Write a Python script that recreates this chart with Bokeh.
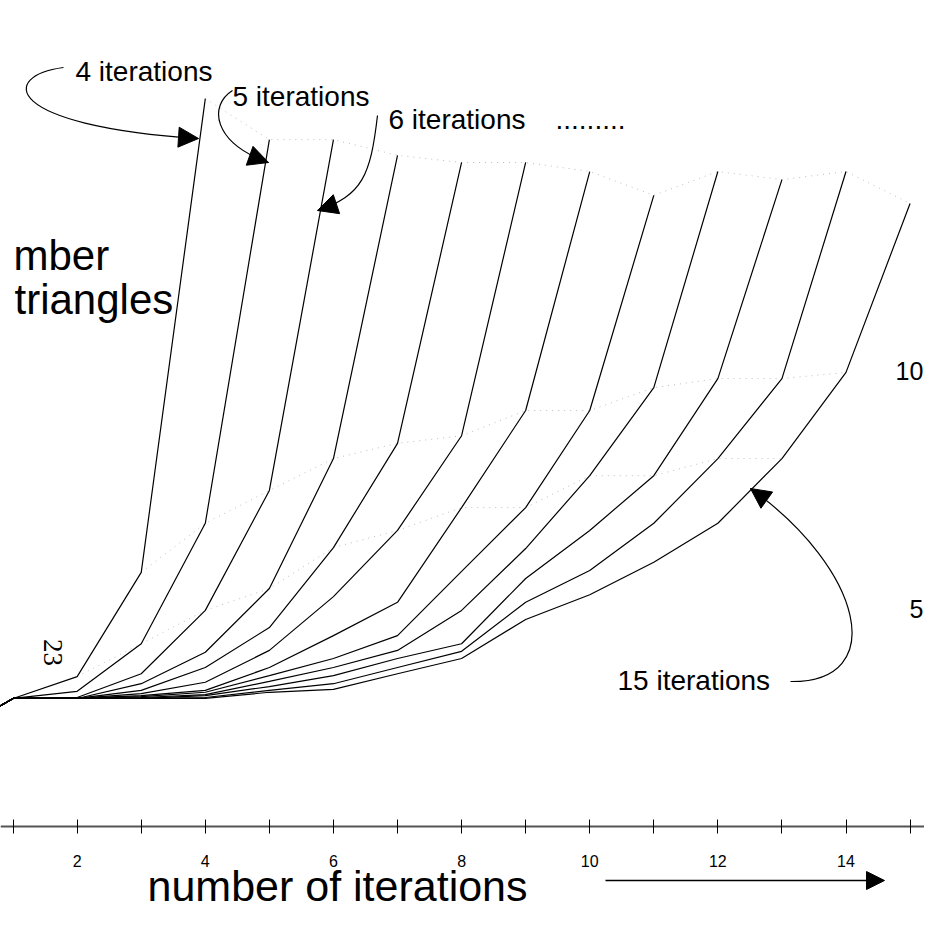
import math
from bokeh.plotting import figure
from bokeh.models import Range1d, FixedTicker, Arrow, NormalHead
from bokeh.core.properties import value
from bokeh.embed import file_html
from bokeh.resources import INLINE

# ---------------- data ----------------
# number of triangles (in thousands) after each iteration, one series per run length
curve_4 = [3.11, 3.57, 5.76, 15.71]
curve_5 = [3.11, 3.26, 4.26, 6.79, 14.85]
curve_6 = [3.11, 3.13, 3.63, 4.96, 7.48, 14.85]
curve_7 = [3.11, 3.11, 3.42, 4.08, 5.42, 8.15, 14.52]
curve_8 = [3.11, 3.11, 3.28, 3.76, 4.60, 6.28, 8.47, 14.37]
curve_9 = [3.11, 3.11, 3.21, 3.45, 4.12, 5.25, 6.64, 8.63, 14.37]
curve_10 = [3.11, 3.11, 3.17, 3.28, 3.76, 4.43, 5.13, 7.12, 9.16, 14.18]
curve_11 = [3.11, 3.11, 3.15, 3.24, 3.59, 3.95, 4.43, 5.78, 7.12, 9.16, 13.68]
curve_12 = [3.11, 3.11, 3.13, 3.19, 3.47, 3.76, 4.12, 4.96, 6.26, 7.79, 9.64, 14.18]
curve_13 = [3.11, 3.11, 3.11, 3.17, 3.36, 3.59, 3.95, 4.26, 5.63, 6.64, 7.79, 9.83, 14.01]
curve_14 = [3.11, 3.11, 3.11, 3.13, 3.28, 3.42, 3.76, 4.10, 5.13, 5.80, 6.79, 8.15, 9.83, 14.18]
curve_15 = [3.11, 3.11, 3.11, 3.11, 3.24, 3.30, 3.63, 3.95, 4.77, 5.29, 5.97, 6.79, 8.15, 9.96, 13.51]
start_value = 2.33          # value at iteration 0 (shared start)
x_ticks = [2, 4, 6, 8, 10, 12, 14]
x_minor_ticks = [1, 3, 5, 7, 9, 11, 13, 15]

curves = [curve_4, curve_5, curve_6, curve_7, curve_8, curve_9, curve_10,
          curve_11, curve_12, curve_13, curve_14, curve_15]

# ---------------- layout helpers (picture pixel -> data) ----------------
def DX(px):
    return 1 + (px - 12.6) / 64.07

def DY(py):
    return (846 - py) / 47.6

W, H = 924, 910
p = figure(width=W, height=H,
           x_range=Range1d(DX(0), DX(W)), y_range=Range1d(DY(H), DY(0)),
           output_backend="svg", toolbar_location=None, min_border=0,
           y_axis_location=None)
p.outline_line_color = None
p.grid.visible = False
p.background_fill_color = "white"
p.border_fill_color = "white"

ax = p.xaxis[0]
ax.fixed_location = DY(826)
ax.ticker = FixedTicker(ticks=x_ticks, minor_ticks=x_minor_ticks)
ax.axis_line_color = "#555555"
ax.axis_line_width = 2
ax.major_tick_in = 7
ax.major_tick_out = 7
ax.minor_tick_in = 7
ax.minor_tick_out = 7
ax.major_tick_line_color = "black"
ax.minor_tick_line_color = "black"
ax.major_label_text_font = "Liberation Sans"
ax.major_label_text_font_size = "16px"
ax.major_label_text_color = "black"
ax.major_label_standoff = 21

# ---------------- curves ----------------
xs = [[0] + list(range(1, len(c) + 1)) for c in curves]
ys = [[start_value] + c for c in curves]
# dotted guide lines joining the last, second-last and third-last points
for k in (0, 1, 2):
    gx = [len(c) - k for c in curves if len(c) - k >= 1]
    gy = [c[len(c) - 1 - k] for c in curves if len(c) - k >= 1]
    p.line(gx, gy, line_color="#bdbdbd", line_width=1, line_dash="1 5")
p.multi_line(xs, ys, line_color="black", line_width=1.2)

# ---------------- texts ----------------
F = value("Liberation Sans")
def label(x, y, t, size, align="left", base="middle", font=F, angle=0.0):
    p.text([x], [y], text=[t], text_font=font, text_font_size=size,
           text_align=align, text_baseline=base, text_color="black", angle=angle)

label(DX(75), DY(71), "4 iterations", "28px")
label(DX(232), DY(96), "5 iterations", "28px")
label(DX(388), DY(119), "6 iterations", "28px")
label(DX(555), DY(119), ".........", "28px")
label(DX(617), DY(680), "15 iterations", "28px")
label(DX(13), DY(255), "mber", "42px")
label(DX(14), DY(299), "triangles", "42px")
label(DX(147), DY(885), "number of iterations", "43px")
label(DX(895), DY(370), "10", "25px")
label(DX(909), DY(608), "5", "25px")
label(DX(52), DY(652), "23", "27px", align="center",
      font=value("Liberation Serif"), angle=-math.pi / 2)

# ---------------- arrows ----------------
def curved_arrow(p0, c0, c1, p1):
    p.bezier(x0=[DX(p0[0])], y0=[DY(p0[1])], x1=[DX(p1[0])], y1=[DY(p1[1])],
             cx0=[DX(c0[0])], cy0=[DY(c0[1])], cx1=[DX(c1[0])], cy1=[DY(c1[1])],
             line_color="black", line_width=1.2)
    # short final segment along the end tangent carries the head
    tx, ty = p1[0] - c1[0], p1[1] - c1[1]
    n = math.hypot(tx, ty)
    sx, sy = p1[0] - 6 * tx / n, p1[1] - 6 * ty / n
    p.add_layout(Arrow(end=NormalHead(size=20, fill_color="black", line_color="black"),
                       x_start=DX(sx), y_start=DY(sy), x_end=DX(p1[0]), y_end=DY(p1[1]),
                       line_color="black", line_width=1.2))

curved_arrow((63, 67), (0, 75), (0, 125), (198, 138))
curved_arrow((232, 90), (208, 105), (212, 142), (268, 162))
curved_arrow((377, 115), (370, 175), (362, 195), (317, 210))
curved_arrow((790, 681), (890, 682), (862, 568), (750, 488))

p.add_layout(Arrow(end=NormalHead(size=18, fill_color="black", line_color="black"),
                   x_start=DX(605), y_start=DY(880), x_end=DX(884), y_end=DY(880),
                   line_color="black", line_width=1.5))

open("out.html", "w").write(file_html(p, INLINE))
